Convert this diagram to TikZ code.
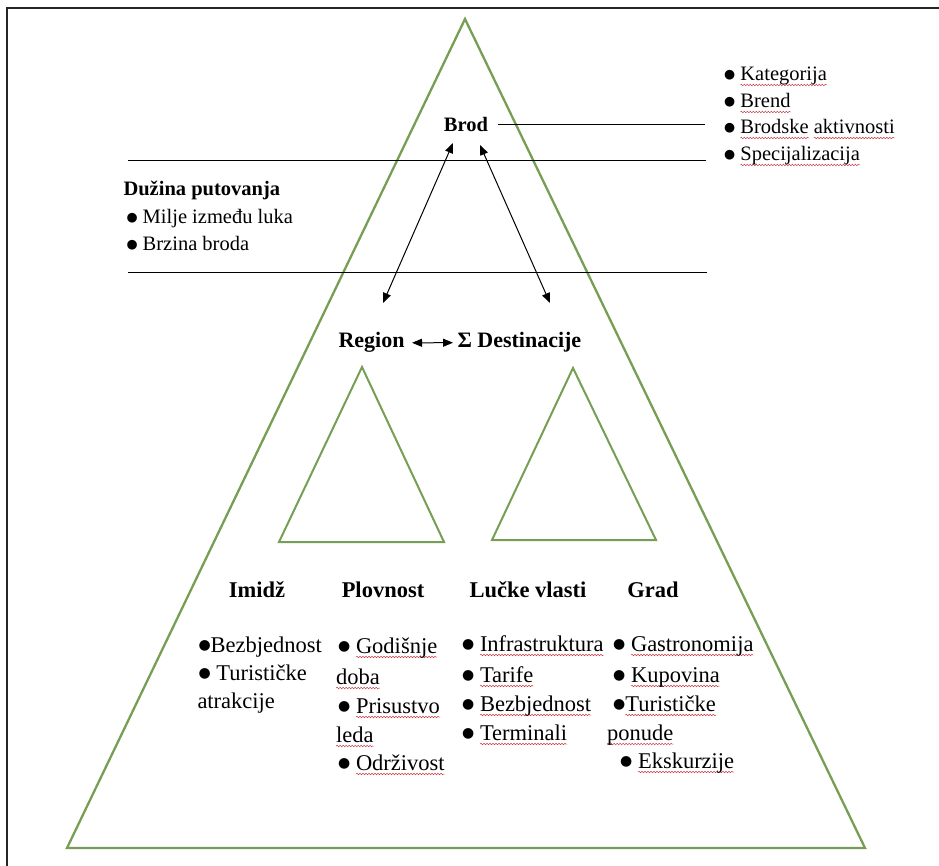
\documentclass[tikz,border=0pt]{standalone}
\usepackage{fontspec}
\setmainfont{Liberation Serif}
\newfontfamily\symfont{DejaVu Sans}
\usepackage{graphicx}
\usetikzlibrary{arrows.meta,decorations.pathmorphing}

\definecolor{pyramid}{RGB}{118,158,84}
\definecolor{spellred}{RGB}{200,60,70}

\newlength\sqlen
\newcommand\sq[1]{\settowidth\sqlen{#1}\rlap{\tikz[overlay,baseline=0pt]\draw[spellwave] (0pt,-4pt) -- (\sqlen,-4pt);}#1}
\newcommand\bl{\raisebox{0.1em}{\scalebox{0.62}{\symfont ●}}}

\tikzset{
  head/.style={font=\fontsize{20.5}{24}\selectfont\bfseries, inner sep=0pt, anchor=base},
  item/.style={font=\fontsize{20.5}{24}\selectfont, inner sep=0pt, anchor=base west},
  mid/.style={font=\fontsize{22}{26}\selectfont\bfseries, inner sep=0pt, anchor=base west},
  lowhead/.style={font=\fontsize{22.5}{26}\selectfont\bfseries, inner sep=0pt, anchor=base},
  low/.style={font=\fontsize{22.5}{26}\selectfont, inner sep=0pt, anchor=base west},
  tri/.style={draw=pyramid, line width=2pt, line join=miter},
  spellwave/.style={draw=spellred, line width=0.5pt, decorate,
    decoration={snake, amplitude=0.8pt, segment length=3pt}},
}

\begin{document}
\begin{tikzpicture}[x=1pt,y=-1pt,line width=1pt,>={Triangle[length=10pt,width=8pt]}]
  \useasboundingbox (0,0) rectangle (939,866);
  \draw[line width=1.3pt, black!85] (7,866) -- (7,8) -- (939,8);

  \draw[tri, line width=2.3pt] (465,19) -- (865,848) -- (67,848) -- cycle;
  \draw[tri] (362,367) -- (444,542) -- (279,542) -- cycle;
  \draw[tri] (573,368) -- (656,540) -- (492,540) -- cycle;

  \draw (128,161) -- (706,161);
  \draw (128,273) -- (707,273);

  \node[head] (brod) at (466,132) {Brod};
  \coordinate (bline) at (705,125);
  \draw (brod.east) ++(9,0) -- (brod.east -| bline);

  \node[item] (kat) at (724,81) {\bl\ \sq{Kategorija}};
  \node[item] (brend) at (724,108) {\bl\ \sq{Brend}};
  \node[item] (akt) at (724,134) {\bl\ \sq{Brodske} \sq{aktivnosti}};
  \node[item] (spec) at (724,161) {\bl\ \sq{Specijalizacija}};

  \node[head, anchor=base west] (duzina) at (123,196) {Dužina putovanja};
  \node[item] (milje) at (126,224) {\bl\ Milje između luka};
  \node[item] (brzina) at (126,251) {\bl\ Brzina broda};

  \node[mid] (region) at (338,348) {Region};
  \node[mid] (dest) at (457,348) {Σ Destinacije};
  \draw[<->] ([xshift=7]region.east) -- ([xshift=-4]dest.west);

  \coordinate (bl) at (453,143);
  \coordinate (br) at (480,145);
  \coordinate (rg) at (383,303);
  \coordinate (ds) at (550,303);
  \draw[<->] (bl) -- (rg);
  \draw[<->] (br) -- (ds);

  \node[lowhead] (imidz) at (257,597) {Imidž};
  \node[lowhead] (plov) at (383,597) {Plovnost};
  \node[lowhead] (luke) at (528,597) {Lučke vlasti};
  \node[lowhead] (grad) at (653,597) {Grad};

  \node[low] (i1) at (198,652) {\bl Bezbjednost};
  \node[low] (i2) at (198,680) {\bl\ Turističke};
  \node[low] (i3) at (197,708) {atrakcije};

  \node[low] (p1) at (338,653) {\bl\ \sq{Godišnje}};
  \node[low] (p2) at (336,684) {\sq{doba}};
  \node[low] (p3) at (338,713) {\bl\ \sq{Prisustvo}};
  \node[low] (p4) at (336,742) {\sq{leda}};
  \node[low] (p5) at (338,770) {\bl\ \sq{Održivost}};

  \node[low] (l1) at (462,651) {\bl\ \sq{Infrastruktura}};
  \node[low] (l2) at (462,682) {\bl\ \sq{Tarife}};
  \node[low] (l3) at (462,711) {\bl\ \sq{Bezbjednost}};
  \node[low] (l4) at (462,740) {\bl\ \sq{Terminali}};

  \node[low] (g1) at (613,651) {\bl\ \sq{Gastronomija}};
  \node[low] (g2) at (613,682) {\bl\ \sq{Kupovina}};
  \node[low] (g3) at (613,711) {\bl\sq{Turističke}};
  \node[low] (g4) at (607,740) {\sq{ponude}};
  \node[low] (g5) at (620,768) {\bl\ \sq{Ekskurzije}};
\end{tikzpicture}
\end{document}
